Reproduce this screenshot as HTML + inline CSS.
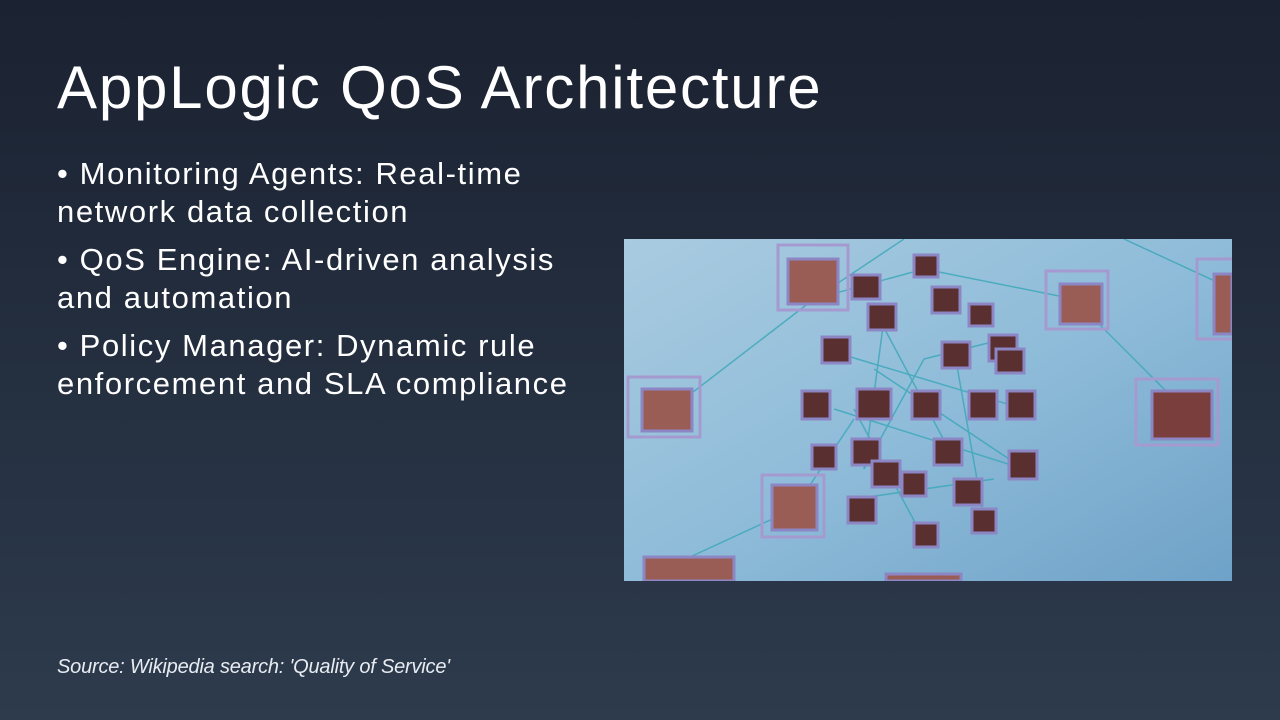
<!DOCTYPE html>
<html><head><meta charset="utf-8"><style>
html,body{margin:0;padding:0}
body{width:1280px;height:720px;overflow:hidden;background:linear-gradient(180deg,#1b2232 0%,#222c3c 40%,#2d3b4d 100%);font-family:"Liberation Sans",sans-serif;color:#fff;position:relative}
h1{position:absolute;left:57px;top:52px;margin:0;font-weight:400;font-size:60px;letter-spacing:1.8px;line-height:72px;white-space:nowrap}
.b{position:absolute;left:57px;font-size:31px;line-height:38px;letter-spacing:1.6px;white-space:nowrap}
.src{position:absolute;left:57px;top:656px;font-size:20px;font-style:italic;color:#e8ecf2;letter-spacing:-0.2px}
svg{position:absolute;left:624px;top:239px}
</style></head><body>
<h1>AppLogic QoS Architecture</h1>
<div class="b" style="top:155px">• Monitoring Agents: Real-time<br>network data collection</div>
<div class="b" style="top:241px">• QoS Engine: AI-driven analysis<br>and automation</div>
<div class="b" style="top:327px">• Policy Manager: Dynamic rule<br>enforcement and SLA compliance</div>
<div class="src">Source: Wikipedia search: 'Quality of Service'</div>
<svg width="608" height="342" viewBox="0 0 608 342">
<defs><linearGradient id="g" x1="0" y1="0" x2="1" y2="1"><stop offset="0" stop-color="#a9cbe0"/><stop offset="0.5" stop-color="#8fbcd9"/><stop offset="1" stop-color="#6fa2c8"/></linearGradient></defs>
<rect width="608" height="342" fill="url(#g)"/>
<g stroke="#3aa7b8" stroke-width="1.5" opacity="0.8">
<line x1="60" y1="160" x2="190" y2="60"/><line x1="190" y1="60" x2="300" y2="30"/><line x1="300" y1="30" x2="450" y2="60"/>
<line x1="450" y1="60" x2="560" y2="170"/><line x1="170" y1="270" x2="230" y2="180"/><line x1="40" y1="330" x2="170" y2="270"/>
<line x1="200" y1="110" x2="400" y2="170"/><line x1="250" y1="70" x2="330" y2="220"/><line x1="210" y1="170" x2="400" y2="230"/>
<line x1="260" y1="80" x2="240" y2="230"/><line x1="330" y1="110" x2="360" y2="280"/><line x1="230" y1="170" x2="300" y2="300"/>
<line x1="500" y1="0" x2="608" y2="50"/><line x1="190" y1="60" x2="280" y2="0"/><line x1="240" y1="230" x2="300" y2="120"/>
<line x1="300" y1="120" x2="380" y2="100"/><line x1="250" y1="130" x2="400" y2="230"/><line x1="230" y1="260" x2="370" y2="240"/>
</g>
<g fill="none" stroke="#a59ad0" stroke-width="3">
<rect x="154" y="6" width="70" height="65"/><rect x="4" y="138" width="72" height="60"/><rect x="422" y="32" width="62" height="58"/>
<rect x="512" y="140" width="82" height="66"/><rect x="138" y="236" width="62" height="62"/><rect x="573" y="20" width="40" height="80"/>
</g>
<g fill="#5a2f30" stroke="#8d86c4" stroke-width="3">
<rect x="164" y="20" width="50" height="45" fill="#9a5d56"/><rect x="18" y="150" width="50" height="42" fill="#9a5d56"/>
<rect x="436" y="45" width="42" height="40" fill="#9a5d56"/><rect x="528" y="152" width="60" height="48" fill="#7a3f3d"/>
<rect x="148" y="246" width="45" height="45" fill="#9a5d56"/><rect x="590" y="35" width="18" height="60" fill="#9a5d56"/>
<rect x="20" y="318" width="90" height="24" fill="#9a5d56"/><rect x="262" y="335" width="75" height="7" fill="#9a5d56"/>
<rect x="228" y="36" width="28" height="24"/><rect x="290" y="16" width="24" height="22"/><rect x="308" y="48" width="28" height="26"/>
<rect x="244" y="65" width="28" height="26"/><rect x="345" y="65" width="24" height="22"/><rect x="198" y="98" width="28" height="26"/>
<rect x="318" y="103" width="28" height="26"/><rect x="365" y="96" width="28" height="26"/><rect x="178" y="152" width="28" height="28"/>
<rect x="233" y="150" width="34" height="30"/><rect x="288" y="152" width="28" height="28"/><rect x="345" y="152" width="28" height="28"/>
<rect x="383" y="152" width="28" height="28"/><rect x="188" y="206" width="24" height="24"/><rect x="228" y="200" width="28" height="26"/>
<rect x="248" y="222" width="28" height="26"/><rect x="310" y="200" width="28" height="26"/><rect x="385" y="212" width="28" height="28"/>
<rect x="278" y="233" width="24" height="24"/><rect x="330" y="240" width="28" height="26"/><rect x="224" y="258" width="28" height="26"/>
<rect x="348" y="270" width="24" height="24"/><rect x="290" y="284" width="24" height="24"/><rect x="372" y="110" width="28" height="24"/>
</g>
</svg>
</body></html>
